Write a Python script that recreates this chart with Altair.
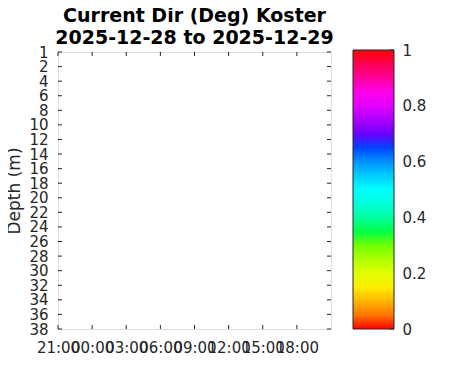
import altair as alt
import pandas as pd

# ---- data ----
title_lines = ["Current Dir (Deg) Koster", "2025-12-28 to 2025-12-29"]
depth_labels = [1, 2, 4, 6, 8, 10, 12, 14, 16, 18, 20, 22, 24, 26, 28, 30, 32, 34, 36, 38]
tick_times = [
    "2025-12-28T21:00:00Z", "2025-12-29T00:00:00Z", "2025-12-29T03:00:00Z",
    "2025-12-29T06:00:00Z", "2025-12-29T09:00:00Z", "2025-12-29T12:00:00Z",
    "2025-12-29T15:00:00Z", "2025-12-29T18:00:00Z",
]
time_domain = ["2025-12-28T21:00:00Z", "2025-12-29T21:00:00Z"]
cbar_ticks = [0, 0.2, 0.4, 0.6, 0.8, 1]
hsv_stops = [0, 1 / 6, 1 / 3, 1 / 2, 2 / 3, 5 / 6, 1]
hsv_colors = ["#ff0000", "#ffff00", "#00ff00", "#00ffff", "#0000ff", "#ff00ff", "#ff0000"]
# no current-direction measurements are shown in this window
obs_time = []
obs_depth = []
obs_dir = []

W, H = 273, 277
TICK = 4
CB_OFF = 63          # colorbar right edge, measured from the plot's right edge
INK = "#262626"
FONT = "DejaVu Sans"


def ms(s):
    return int(pd.Timestamp(s).value // 10**6)


dom_ms = [ms(t) for t in time_domain]
tick_ms = [ms(t) for t in tick_times]

obs = pd.DataFrame({"time": pd.to_datetime(obs_time, utc=True),
                    "depth": pd.Series(obs_depth, dtype="float"),
                    "dir": pd.Series(obs_dir, dtype="float")})
depth_df = pd.DataFrame({"depth": depth_labels})
time_df = pd.DataFrame({"time": tick_times})
cbar_df = pd.DataFrame({"v": cbar_ticks})

x_scale = alt.Scale(type="utc", domain=dom_ms)
y_scale = alt.Scale(type="point", domain=depth_labels, padding=0)

x_axis = alt.Axis(values=tick_ms, labelExpr="utcFormat(datum.value, '%H:%M')",
                  title=None, ticks=False, domain=False, grid=False,
                  labelFontSize=15, labelPadding=11, labelColor=INK,
                  labelFont=FONT, labelOverlap=False, labelFlush=False,
                  labelBound=False)
y_axis = alt.Axis(title="Depth (m)", ticks=False, domain=False, grid=False,
                  labelFontSize=15, labelPadding=10, labelColor=INK,
                  labelFont=FONT, labelOverlap=False, labelBound=False,
                  titleFontSize=17, titleFont=FONT, titleColor=INK,
                  titleFontWeight="normal", titleX=-44, titleY=H / 2,
                  titleAngle=-90, titleBaseline="middle", titleAlign="center")


def xe():
    return alt.X("time:T", scale=x_scale, axis=x_axis)


def ye():
    return alt.Y("depth:O", scale=y_scale, axis=y_axis)


heat = alt.Chart(obs).mark_square(size=40, opacity=1).encode(
    x=xe(),
    y=ye(),
    color=alt.Color("dir:Q",
                    scale=alt.Scale(domain=hsv_stops, range=hsv_colors),
                    legend=alt.Legend(title=None, orient="none", legendX=W + CB_OFF - 41,
                                      legendY=-2, direction="vertical", gradientLength=279,
                                      gradientThickness=41, gradientStrokeColor=INK,
                                      gradientStrokeWidth=1, gradientOpacity=1,
                                      values=cbar_ticks, labelOpacity=0, padding=0)),
)

left_ticks = alt.Chart(depth_df).mark_rule(color=INK, strokeWidth=1).encode(
    y=ye(), x=alt.value(0), x2=alt.value(TICK))
right_ticks = alt.Chart(depth_df).mark_rule(color=INK, strokeWidth=1).encode(
    y=ye(), x=alt.value(W - TICK), x2=alt.value(W))
bottom_ticks = alt.Chart(time_df).mark_rule(color=INK, strokeWidth=1).encode(
    x=xe(), y=alt.value(H - TICK), y2=alt.value(H))
top_ticks = alt.Chart(time_df).mark_rule(color=INK, strokeWidth=1).encode(
    x=xe(), y=alt.value(0), y2=alt.value(TICK))

main = alt.layer(heat, left_ticks, right_ticks, bottom_ticks, top_ticks)

# colorbar tick labels and inward ticks, on the colour scale's 0..1 range
cbar_axis = alt.Chart(cbar_df).mark_rule(color=INK, strokeWidth=1).encode(
    y=alt.Y("v:Q", scale=alt.Scale(domain=[0, 1], range=[H, -2], nice=False, zero=False),
            axis=alt.Axis(orient="right", offset=CB_OFF, values=cbar_ticks, format="~g",
                          title=None, ticks=False, domain=False, grid=False,
                          labelFontSize=15, labelFont=FONT, labelColor=INK,
                          labelPadding=8, labelOverlap=False, labelBound=False,
                          labelFlush=False)),
    x=alt.value(W + CB_OFF - TICK), x2=alt.value(W + CB_OFF),
)

chart = alt.layer(main, cbar_axis).resolve_scale(y="independent").properties(
    width=W, height=H,
    title=alt.TitleParams(title_lines, fontSize=19, fontWeight="bold", font=FONT,
                          color="#000000", anchor="middle", offset=-5, lineHeight=22),
    autosize="none",
    padding={"left": 50, "top": 44, "right": 132, "bottom": 34},
).configure_view(stroke=INK, strokeWidth=1).configure(background="white")

chart.save("out.html", embed_options={"renderer": "svg", "actions": False})
